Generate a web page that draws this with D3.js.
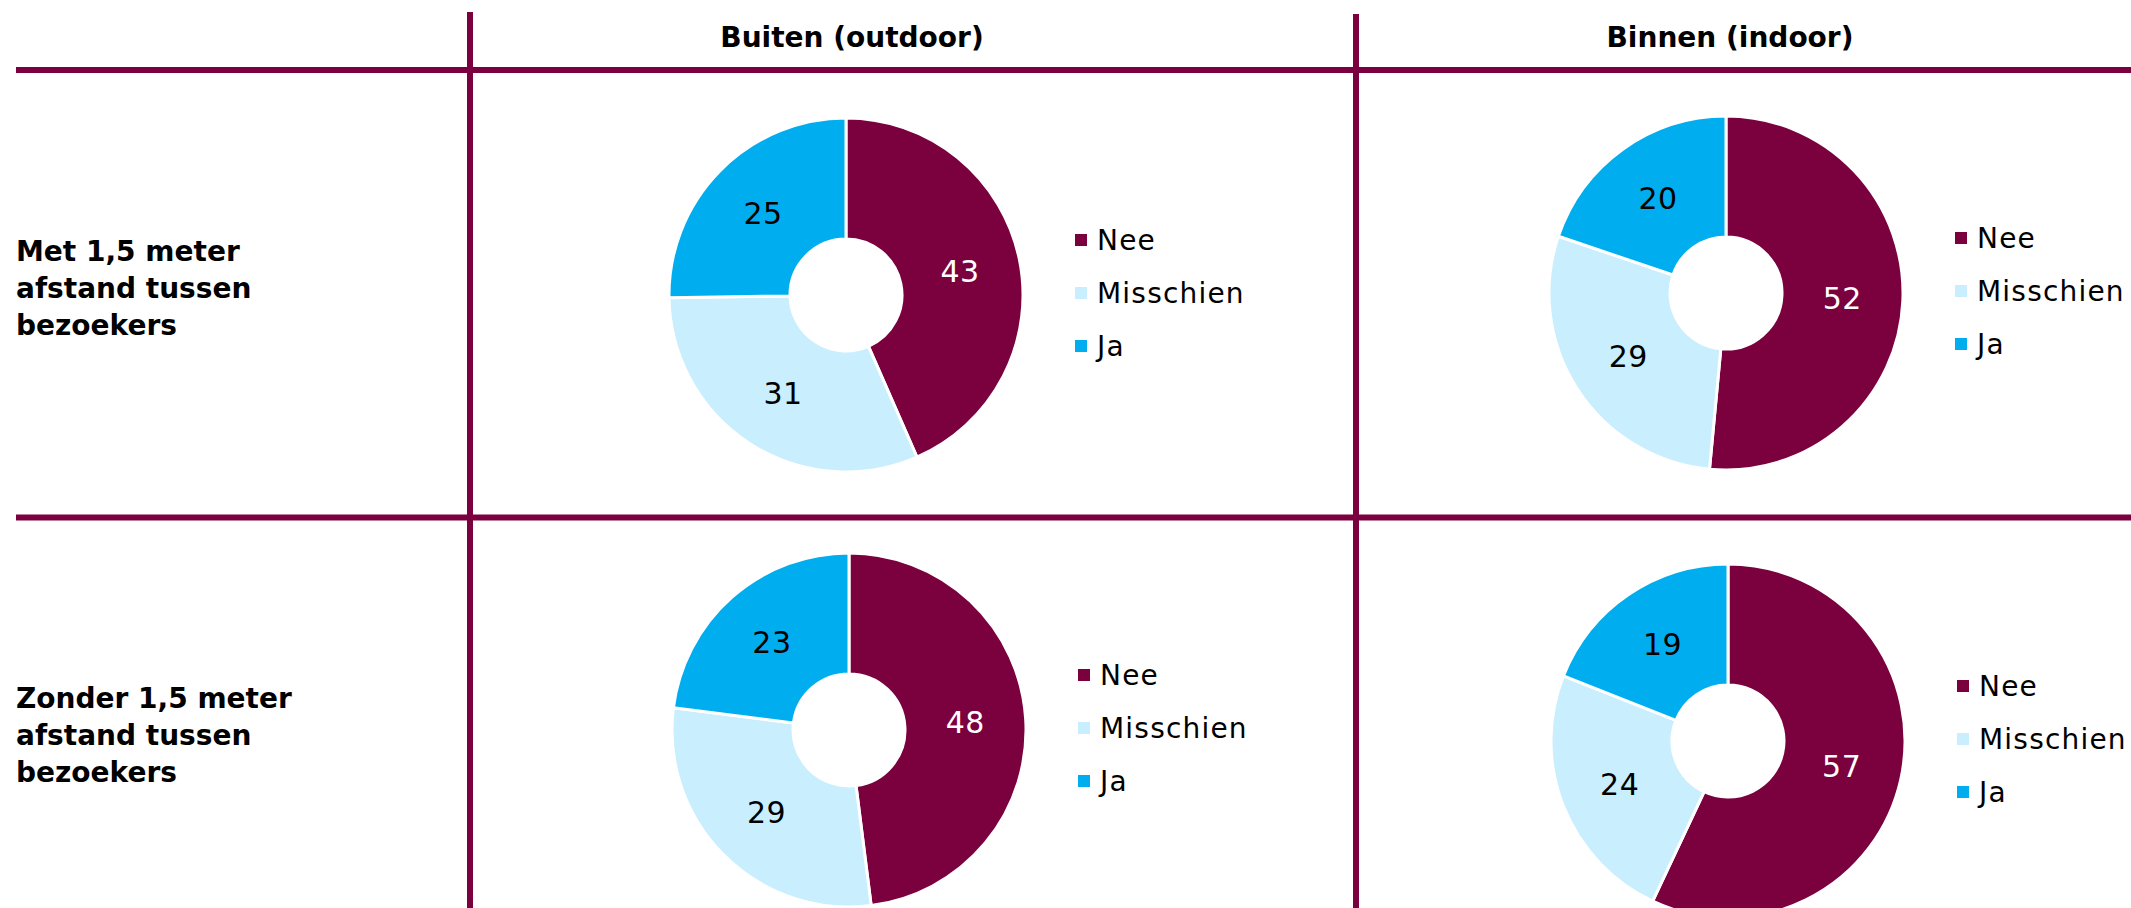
<!DOCTYPE html>
<html>
<head>
<meta charset="utf-8">
<script src="https://cdn.jsdelivr.net/npm/d3@7"></script>
<style>
  html, body { margin: 0; padding: 0; background: #fff; }
  svg { display: block; }
  text { font-family: "DejaVu Sans", Verdana, sans-serif; }
</style>
</head>
<body>
<svg id="chart" width="2131" height="908"></svg>
<script>
// ---- data ----
const columnLabels = ["Buiten (outdoor)", "Binnen (indoor)"];
const rowLabels = [
  ["Met 1,5 meter", "afstand tussen", "bezoekers"],
  ["Zonder 1,5 meter", "afstand tussen", "bezoekers"]
];
const categories = ["Nee", "Misschien", "Ja"];
const metBuiten = [43, 31, 25];
const metBinnen = [52, 29, 20];
const zonderBuiten = [48, 29, 23];
const zonderBinnen = [57, 24, 19];
const panelValues = [[metBuiten, metBinnen], [zonderBuiten, zonderBinnen]];

// ---- styles / layout ----
const colors = d3.scaleOrdinal().domain(categories).range(["#7b003e", "#c9eefd", "#00aeef"]);
const labelColors = d3.scaleOrdinal().domain(categories).range(["#ffffff", "#000000", "#000000"]);
const lineColor = "#7b003f";
const centersX = [[846, 1726], [849, 1728]];
const centersY = [[295, 293], [730, 741]];
const titleX = [852, 1730];
const rowLabelBaseline = [261, 708];
const outerR = 177, innerR = 56;

const svg = d3.select("#chart");

// grid lines
const g = svg.append("g");
g.append("line").attr("x1", 470).attr("x2", 470).attr("y1", 12).attr("y2", 908)
  .attr("stroke", lineColor).attr("stroke-width", 6);
g.append("line").attr("x1", 1356).attr("x2", 1356).attr("y1", 14).attr("y2", 908)
  .attr("stroke", lineColor).attr("stroke-width", 6);
g.append("line").attr("x1", 16).attr("x2", 2131).attr("y1", 70).attr("y2", 70)
  .attr("stroke", lineColor).attr("stroke-width", 6);
g.append("line").attr("x1", 16).attr("x2", 2131).attr("y1", 517.5).attr("y2", 517.5)
  .attr("stroke", lineColor).attr("stroke-width", 6);

// column titles
columnLabels.forEach((t, i) => {
  svg.append("text").attr("x", titleX[i]).attr("y", 47)
    .attr("text-anchor", "middle").attr("font-weight", "bold").attr("font-size", 28)
    .attr("fill", "#000").text(t);
});

// row labels
rowLabels.forEach((lines, r) => {
  const t = svg.append("text").attr("font-weight", "bold").attr("font-size", 28).attr("fill", "#000");
  lines.forEach((ln, k) => {
    t.append("tspan").attr("x", 16).attr("y", rowLabelBaseline[r] + k * 37).text(ln);
  });
});

const pie = d3.pie().sort(null).value(d => d.value).startAngle(0).endAngle(2 * Math.PI);
const arc = d3.arc().innerRadius(innerR).outerRadius(outerR);
const labelArc = d3.arc().innerRadius((innerR + outerR) / 2).outerRadius((innerR + outerR) / 2);

panelValues.forEach((row, r) => {
  row.forEach((vals, c) => {
    const cx = centersX[r][c], cy = centersY[r][c];
    const data = categories.map((k, i) => ({ key: k, value: vals[i] }));
    const pg = svg.append("g").attr("transform", `translate(${cx},${cy})`);
    const arcs = pie(data);
    pg.selectAll("path").data(arcs).join("path")
      .attr("d", arc)
      .attr("fill", d => colors(d.data.key))
      .attr("stroke", "#fff").attr("stroke-width", 3).attr("stroke-linejoin", "miter");
    pg.selectAll("text.val").data(arcs).join("text")
      .attr("class", "val")
      .attr("transform", d => `translate(${labelArc.centroid(d)})`)
      .attr("text-anchor", "middle").attr("dy", "0.36em")
      .attr("font-size", 30).attr("letter-spacing", 0.5)
      .attr("fill", d => labelColors(d.data.key))
      .text(d => d.data.value);

    // legend
    const lg = svg.append("g").attr("transform", `translate(${cx + 229},${cy + 8})`);
    categories.forEach((k, i) => {
      const y = (i - 1) * 53;
      lg.append("rect").attr("x", 0).attr("y", y - 16).attr("width", 12).attr("height", 12)
        .attr("fill", colors(k));
      lg.append("text").attr("x", 22).attr("y", y).attr("font-size", 28)
        .attr("letter-spacing", 1.2).attr("fill", "#000").text(k);
    });
  });
});
</script>
</body>
</html>
